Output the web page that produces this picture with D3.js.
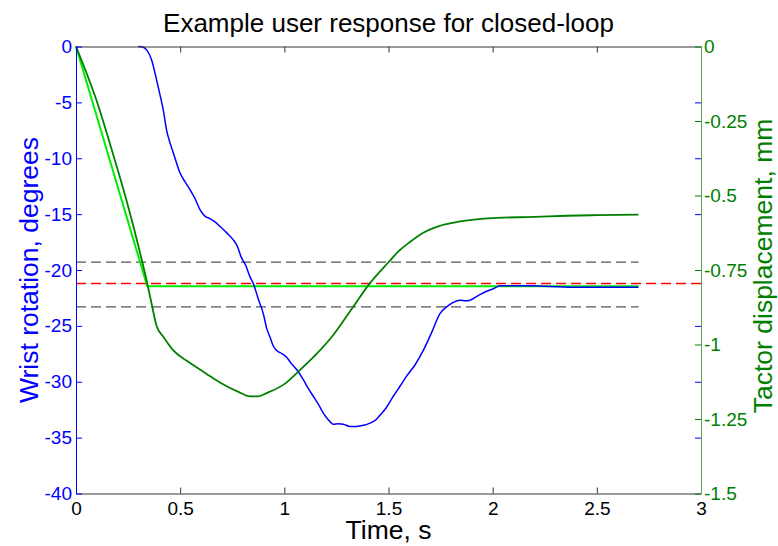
<!DOCTYPE html>
<html>
<head>
<meta charset="utf-8">
<script src="https://cdn.jsdelivr.net/npm/d3@7"></script>
<style>
  body { margin: 0; background: #fff; }
  text { font-family: "Liberation Sans", Arial, sans-serif; }
</style>
</head>
<body>
<div id="chart"></div>
<script>
// wrist rotation (deg, left axis)
const wristT = [0.299, 0.32, 0.339, 0.363, 0.387, 0.403, 0.419, 0.435, 0.451, 0.467, 0.499, 0.523, 0.547, 0.571, 0.595, 0.62, 0.643, 0.667, 0.691, 0.725, 0.755, 0.775, 0.792, 0.815, 0.835, 0.851, 0.875, 0.899, 0.915, 0.931, 0.947, 0.963, 0.99, 1.011, 1.035, 1.059, 1.091, 1.115, 1.139, 1.163, 1.187, 1.211, 1.235, 1.26, 1.283, 1.315, 1.347, 1.38, 1.411, 1.44, 1.459, 1.49, 1.523, 1.555, 1.587, 1.627, 1.667, 1.707, 1.747, 1.779, 1.811, 1.843, 1.87, 1.891, 1.93, 1.971, 2.0, 2.035, 2.1, 2.18, 2.25, 2.32, 2.4, 2.5, 2.6, 2.7];
const wristDeg = [0, -0.05, -0.3, -1.2, -3.0, -4.3, -5.7, -7.5, -8.6, -9.5, -11.3, -12.1, -12.8, -13.6, -14.6, -15.2, -15.4, -15.7, -16.1, -16.7, -17.3, -17.9, -18.8, -19.6, -20.6, -21.2, -22.6, -23.9, -25.2, -26.0, -26.8, -27.2, -27.5, -27.8, -28.4, -28.9, -29.8, -30.6, -31.3, -32.0, -32.8, -33.4, -33.8, -33.75, -33.8, -34.0, -34.0, -33.9, -33.7, -33.4, -33.0, -32.3, -31.3, -30.4, -29.5, -28.5, -27.2, -25.6, -23.9, -23.3, -22.9, -22.7, -22.75, -22.7, -22.3, -21.9, -21.7, -21.4, -21.4, -21.4, -21.45, -21.5, -21.55, -21.55, -21.55, -21.55];

// tactor displacement (mm, right axis)
const tactorT = [0, 0.05, 0.1, 0.15, 0.2, 0.25, 0.3, 0.342, 0.365, 0.387, 0.42, 0.467, 0.53, 0.595, 0.66, 0.723, 0.78, 0.835, 0.875, 0.915, 1.0, 1.067, 1.15, 1.235, 1.33, 1.41, 1.5, 1.55, 1.603, 1.667, 1.731, 1.8, 1.9, 2.02, 2.2, 2.356, 2.5, 2.7];
const tactorMm = [0, -0.088, -0.184, -0.296, -0.413, -0.536, -0.671, -0.795, -0.870, -0.938, -0.975, -1.020, -1.054, -1.084, -1.114, -1.140, -1.159, -1.174, -1.174, -1.163, -1.133, -1.091, -1.035, -0.968, -0.874, -0.795, -0.724, -0.686, -0.656, -0.625, -0.605, -0.593, -0.582, -0.575, -0.572, -0.568, -0.566, -0.564];

// commanded target (deg)
const targetT = [0, 0.342, 2.7];
const targetDeg = [0, -21.45, -21.45];

// reference levels (deg)
const redLevel = -21.2;
const bandLevels = [-19.3, -23.3];
const bandEnd = 2.7;

const xTicks = [0, 0.5, 1, 1.5, 2, 2.5, 3];
const yLeftTicks = [0, -5, -10, -15, -20, -25, -30, -35, -40];
const yRightTicks = [0, -0.25, -0.5, -0.75, -1, -1.25, -1.5];

const width = 778, height = 546;
const margin = { top: 46.5, right: 77, bottom: 52.5, left: 76 };
const w = width - margin.left - margin.right;
const h = height - margin.top - margin.bottom;
const fmt = d => String(d);

const svg = d3.select("#chart").append("svg")
    .attr("width", width)
    .attr("height", height);

const g = svg.append("g")
    .attr("transform", `translate(${margin.left},${margin.top})`);

const x = d3.scaleLinear().domain([0, 3]).range([0, w]);
const yL = d3.scaleLinear().domain([-40, 0]).range([h, 0]);
const yR = d3.scaleLinear().domain([-1.5, 0]).range([h, 0]);

// title
svg.append("text")
    .attr("x", margin.left + w / 2)
    .attr("y", 32)
    .attr("text-anchor", "middle")
    .style("font-size", "26px")
    .text("Example user response for closed-loop");

// dashed reference lines
g.selectAll(".band")
    .data(bandLevels)
    .enter().append("line")
    .attr("x1", x(0)).attr("x2", x(bandEnd))
    .attr("y1", d => yL(d)).attr("y2", d => yL(d))
    .attr("stroke", "#555")
    .attr("stroke-width", 1.3)
    .attr("stroke-dasharray", "10,5");

g.append("line")
    .attr("x1", x(0)).attr("x2", x(3))
    .attr("y1", yL(redLevel)).attr("y2", yL(redLevel))
    .attr("stroke", "#ff0000")
    .attr("stroke-width", 1.5)
    .attr("stroke-dasharray", "10,5");

const lineL = d3.line().x(d => x(d[0])).y(d => yL(d[1]));
const lineR = d3.line().x(d => x(d[0])).y(d => yR(d[1]));

g.append("path")
    .datum(d3.zip(targetT, targetDeg))
    .attr("d", lineL)
    .attr("fill", "none")
    .attr("stroke", "#00ee00")
    .attr("stroke-width", 2);

g.append("path")
    .datum(d3.zip(wristT, wristDeg))
    .attr("d", lineL.curve(d3.curveMonotoneX))
    .attr("fill", "none")
    .attr("stroke", "#0000ff")
    .attr("stroke-width", 1.5);

g.append("path")
    .datum(d3.zip(tactorT, tactorMm))
    .attr("d", lineR.curve(d3.curveMonotoneX))
    .attr("fill", "none")
    .attr("stroke", "#008000")
    .attr("stroke-width", 1.8);

// axes (MATLAB style, inward ticks)
const axB = g.append("g")
    .attr("transform", `translate(0,${h})`)
    .call(d3.axisBottom(x).tickValues(xTicks).tickFormat(fmt).tickSizeInner(-6).tickSizeOuter(0).tickPadding(8));
axB.select(".domain").attr("stroke", "#333");
axB.selectAll(".tick line").attr("stroke", "#333");
axB.selectAll("text").style("font-size", "19px").attr("fill", "#000");

const axT = g.append("g")
    .call(d3.axisTop(x).tickValues(xTicks).tickFormat("").tickSizeInner(-6).tickSizeOuter(0));
axT.select(".domain").attr("stroke", "#333");
axT.selectAll(".tick line").attr("stroke", "#333");

const axL = g.append("g")
    .call(d3.axisLeft(yL).tickValues(yLeftTicks).tickFormat(fmt).tickSizeInner(-6).tickSizeOuter(0).tickPadding(4));
axL.select(".domain").attr("stroke", "#0000ff");
axL.selectAll(".tick line").attr("stroke", "#0000ff");
axL.selectAll("text").style("font-size", "19px").attr("fill", "#0000ff");

// left-axis ticks repeated on the right side
const axLR = g.append("g")
    .attr("transform", `translate(${w},0)`)
    .call(d3.axisRight(yL).tickValues(yLeftTicks.slice(1, -1)).tickFormat("").tickSizeInner(-6).tickSizeOuter(0));
axLR.select(".domain").remove();
axLR.selectAll(".tick line").attr("stroke", "#0000ff");

const axR = g.append("g")
    .attr("transform", `translate(${w},0)`)
    .call(d3.axisRight(yR).tickValues(yRightTicks).tickFormat(fmt).tickSizeInner(-6).tickSizeOuter(0).tickPadding(3));
axR.select(".domain").attr("stroke", "#55aa55");
axR.selectAll(".tick line").attr("stroke", "#008000");
axR.selectAll("text").style("font-size", "19px").attr("fill", "#008000");

// axis labels
svg.append("text")
    .attr("x", margin.left + w / 2)
    .attr("y", 539)
    .attr("text-anchor", "middle")
    .style("font-size", "26.5px")
    .text("Time, s");

svg.append("text")
    .attr("transform", `translate(38,${margin.top + h / 2}) rotate(-90)`)
    .attr("text-anchor", "middle")
    .style("font-size", "26.5px")
    .attr("fill", "#0000ff")
    .text("Wrist rotation, degrees");

svg.append("text")
    .attr("transform", `translate(772,${margin.top + h / 2 - 4}) rotate(-90)`)
    .attr("text-anchor", "middle")
    .style("font-size", "26.5px")
    .attr("fill", "#008000")
    .text("Tactor displacement, mm");
</script>
</body>
</html>
